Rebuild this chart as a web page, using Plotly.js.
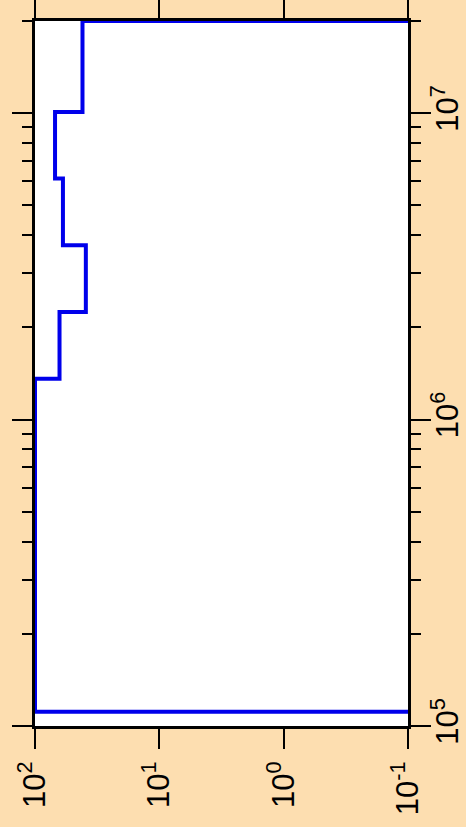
<!DOCTYPE html>
<html>
<head>
<meta charset="utf-8">
<script src="https://cdn.plot.ly/plotly-3.0.1.min.js"></script>
<style>
  html, body { margin: 0; padding: 0; background: #FDDEB0; }
  #chart { width: 466px; height: 827px; }
</style>
</head>
<body>
<div id="chart"></div>
<script>
// Histogram bin edges (log-spaced value axis, drawn vertically)
const binEdges = [1.114e5, 1.36e6, 2.244e6, 3.71e6, 6.12e6, 1.009e7, 2e7];
// Counts per bin (drawn horizontally, log axis)
const counts = [100, 63.5, 39, 59.6, 69, 41.5];
const baseline = 0.1;

const countTickVals = [100, 10, 1, 0.1];
const countTickText = ['10<sup>2</sup>', '10<sup>1</sup>', '10<sup>0</sup>', '10<sup>-1</sup>'];
const binTickVals = [1e5, 1e6, 1e7];
const binTickText = ['10<sup>5</sup>', '10<sup>6</sup>', '10<sup>7</sup>'];

// Build the step outline from the arrays
const xs = [baseline];
const ys = [binEdges[0]];
for (let i = 0; i < counts.length; i++) {
  xs.push(counts[i], counts[i]);
  ys.push(binEdges[i], binEdges[i + 1]);
}
xs.push(baseline);
ys.push(binEdges[binEdges.length - 1]);

const font = { family: 'Liberation Sans, Arial, sans-serif', size: 31, color: '#000' };

const trace = {
  type: 'scatter',
  mode: 'lines',
  x: xs,
  y: ys,
  line: { color: 'rgb(0,0,235)', width: 4 },
  hoverinfo: 'skip'
};

const layout = {
  width: 466,
  height: 827,
  paper_bgcolor: '#FDDEB0',
  plot_bgcolor: '#FFFFFF',
  margin: { l: 35, r: 58, t: 21, b: 101, pad: 0 },
  showlegend: false,
  font: font,
  xaxis: {
    type: 'log',
    range: [2, -1],
    tickmode: 'array',
    tickvals: countTickVals,
    ticktext: countTickText,
    tickangle: -90,
    ticks: 'outside',
    ticklen: 20,
    tickwidth: 2,
    tickcolor: '#000',
    showline: true,
    linewidth: 3,
    linecolor: '#000',
    mirror: 'allticks',
    showgrid: false,
    zeroline: false,
    tickfont: font,
    layer: 'below traces'
  },
  yaxis: {
    type: 'log',
    range: [5, Math.log10(2e7) + 1e-6],
    side: 'right',
    tickmode: 'array',
    tickvals: binTickVals,
    ticktext: binTickText,
    tickangle: -90,
    ticklabelstandoff: -10,
    ticks: 'outside',
    ticklen: 20,
    tickwidth: 2,
    tickcolor: '#000',
    minor: { ticks: 'outside', ticklen: 10, tickwidth: 2, tickcolor: '#000', dtick: 'D1', showgrid: false },
    showline: true,
    linewidth: 3,
    linecolor: '#000',
    mirror: 'allticks',
    showgrid: false,
    zeroline: false,
    tickfont: font,
    layer: 'below traces'
  }
};

Plotly.newPlot('chart', [trace], layout, { staticPlot: true, displayModeBar: false });
</script>
</body>
</html>
